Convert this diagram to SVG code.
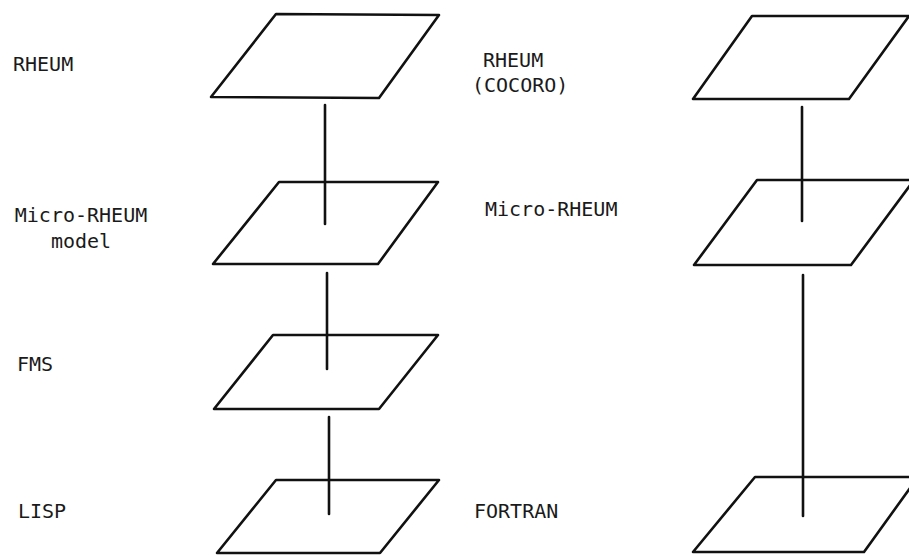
<svg xmlns="http://www.w3.org/2000/svg" width="909" height="556" viewBox="0 0 909 556">
<style>
.plane{fill:none;stroke:#111;stroke-width:2.6;stroke-linejoin:round}
.conn{stroke:#111;stroke-width:2.6;stroke-linecap:round;fill:none}
.lbl{font-family:"DejaVu Sans Mono","Liberation Mono",monospace;font-size:20px;fill:#1a1a1a}
</style>
<rect width="909" height="556" fill="#fff"/>
<g id="connectors">
<line class="conn" x1="325" y1="105" x2="325" y2="224"/>
<line class="conn" x1="327" y1="273" x2="327" y2="369"/>
<line class="conn" x1="329" y1="417" x2="329" y2="514"/>
<line class="conn" x1="802" y1="107" x2="802" y2="221"/>
<line class="conn" x1="803" y1="275" x2="803" y2="516"/>
</g>
<g id="rheum">
<text class="lbl" x="13" y="71">RHEUM</text>
<polygon class="plane" points="276,14 439,15 379,98 211,97"/>
</g>
<g id="micro-rheum-model">
<text class="lbl" x="81" y="222" text-anchor="middle">Micro-RHEUM</text>
<text class="lbl" x="81" y="248" text-anchor="middle">model</text>
<polygon class="plane" points="279,182 438,182 378,264 213,264"/>
</g>
<g id="fms">
<text class="lbl" x="17" y="371">FMS</text>
<polygon class="plane" points="273,335 438,335 379,409 214,409"/>
</g>
<g id="lisp">
<text class="lbl" x="18" y="518">LISP</text>
<polygon class="plane" points="276,480 439,480 380,553 217,553"/>
</g>
<g id="rheum-cocoro">
<text class="lbl" x="483" y="67">RHEUM</text>
<text class="lbl" x="472" y="92">(COCORO)</text>
<polygon class="plane" points="752,16 909,16 849,99 693,99"/>
</g>
<g id="micro-rheum">
<text class="lbl" x="485" y="216">Micro-RHEUM</text>
<polygon class="plane" points="757,180 914,180 851,265 694,265"/>
</g>
<g id="fortran">
<text class="lbl" x="474" y="518">FORTRAN</text>
<polygon class="plane" points="755,477 918,477 864,552 693,552"/>
</g>
</svg>
